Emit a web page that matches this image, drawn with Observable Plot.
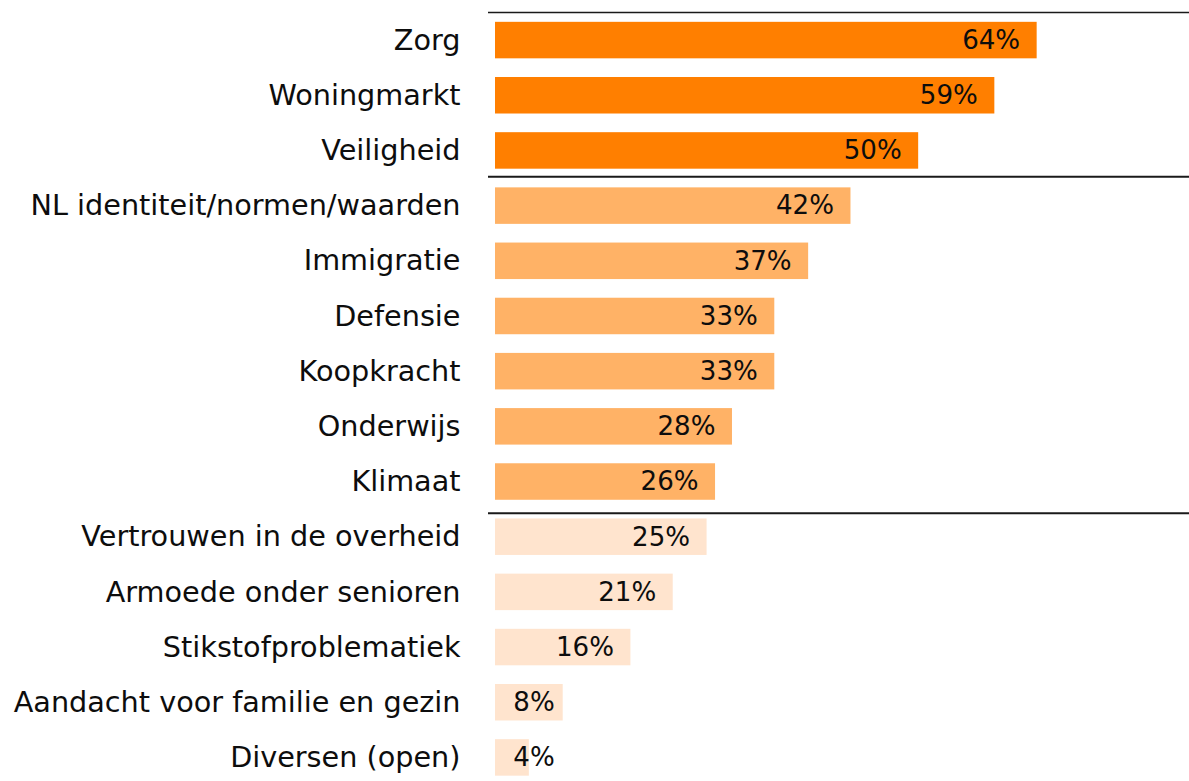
<!DOCTYPE html>
<html><head><meta charset="utf-8">
<script src="https://cdn.jsdelivr.net/npm/d3@7"></script>
<script src="https://cdn.jsdelivr.net/npm/@observablehq/plot@0.6"></script>
<style>html,body{margin:0;padding:0;background:#fff}</style>
</head><body><div id="chart"></div>
<script>
const categories = ["Zorg","Woningmarkt","Veiligheid","NL identiteit/normen/waarden","Immigratie","Defensie","Koopkracht","Onderwijs","Klimaat","Vertrouwen in de overheid","Armoede onder senioren","Stikstofproblematiek","Aandacht voor familie en gezin","Diversen (open)"];
const values = [64,59,50,42,37,33,33,28,26,25,21,16,8,4];
const groups = ["top","top","top","mid","mid","mid","mid","mid","mid","low","low","low","low","low"];
const groupNames = ["top","mid","low"];
const groupColors = ["#FF7F00","#FFB266","#FFE4CE"];
const groupStarts = ["Zorg","NL identiteit/normen/waarden","Vertrouwen in de overheid"];

const FONT = "DejaVu Sans";
// fit font sizes so texts have roughly the reference widths
const cv = document.createElement("canvas").getContext("2d");
cv.font = `100px "${FONT}"`;
const fontSize = 447 / cv.measureText("Aandacht voor familie en gezin").width * 100;
const valueFontSize = 58 / cv.measureText("64%").width * 100;

const data = categories.map((c, i) => ({category: c, value: values[i], group: groups[i]}));

const chart = Plot.plot({
  width: 1189, height: 781,
  marginLeft: 488, marginRight: 0, marginTop: 0, marginBottom: 0,
  style: {fontFamily: FONT, fontSize: fontSize + "px", background: "#fff", overflow: "visible"},
  x: {domain: [-0.827, 82], axis: null},
  y: {domain: categories, range: [12.5, 785], paddingInner: 0.3385, paddingOuter: 0.169, round: false, axis: null},
  color: {domain: groupNames, range: groupColors},
  marks: [
    Plot.barX(data, {y: "category", x: "value", fill: "group"}),
    Plot.text(data, {y: "category", x: d => Math.max(d.value, 9.0), text: d => d.value + "%", textAnchor: "end", dx: -17, fill: "#0d0d0d", fontSize: valueFontSize}),
    Plot.text(data, {y: "category", frameAnchor: "left", text: "category", textAnchor: "end", dx: -28, fill: "#0d0d0d", fontSize: fontSize}),
    Plot.ruleY([groupStarts[0]], {dy: -28, stroke: "#1a1a1a", strokeWidth: 1.5}),
    Plot.ruleY([groupStarts[1]], {dy: -29.3, stroke: "#1a1a1a", strokeWidth: 2}),
    Plot.ruleY([groupStarts[2]], {dy: -24, stroke: "#1a1a1a", strokeWidth: 2})
  ]
});
document.getElementById("chart").append(chart);
</script>
</body></html>
